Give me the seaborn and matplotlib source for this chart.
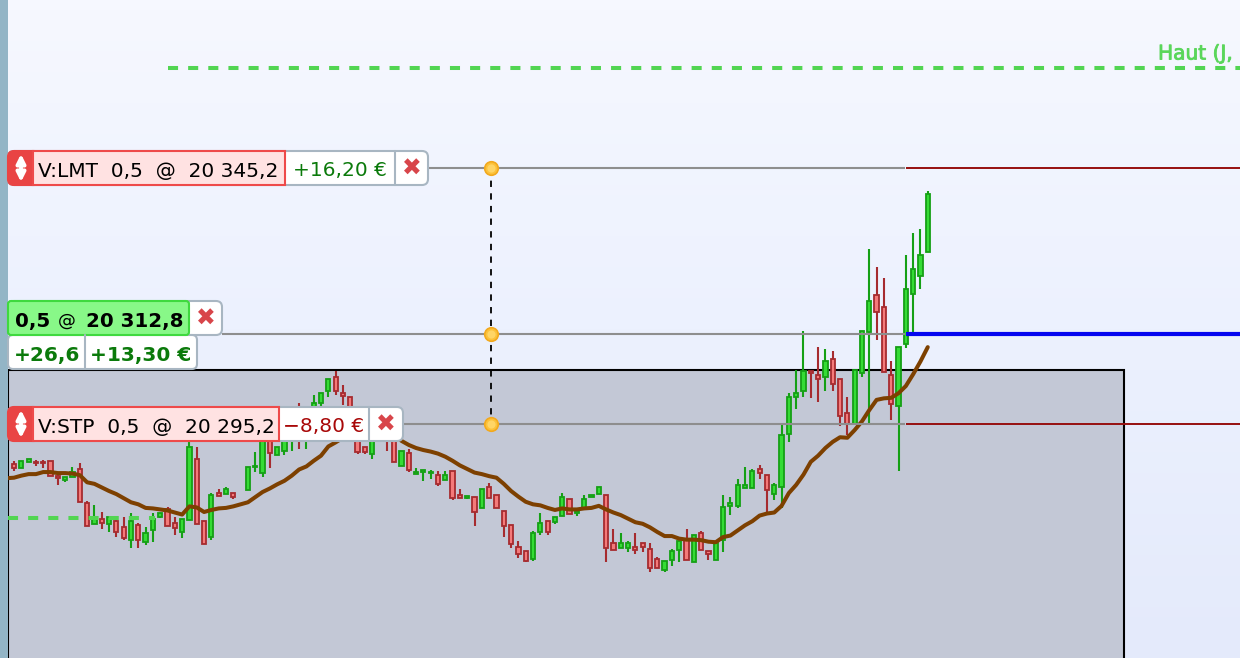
#!/usr/bin/env python3
'''
Intraday candles with a moving average and the order tickets of a trading screen.
Prices are stored as points above PRICE_BASE.
'''
import numpy as np
import seaborn as sns
import matplotlib.pyplot as plt
import matplotlib.patheffects as pe
from matplotlib.colors import LinearSegmentedColormap
from matplotlib.patches import FancyBboxPatch, Rectangle
from matplotlib.transforms import Affine2D

PRICE_BASE = 20200

# one letter per candle, G up, R down, - no trade
directions = (
    'RGGRRRRGGR' 'RGRGRRGRGG' 'GRRGGRRGRG' 'R-GGGRGGGR' 'GGGGRRRRRG'
    'RRRGRGGGRG' 'RRGRGRRRRR' 'RGGRGGRGGG' 'GRRGGRRRRG' 'GGRGRRGGGG'
    'GGRRGGGGGR' 'RGRRRGGGRR' 'RGGGGG'
)
highs = [
    87.9, 87.9, 88.3, 88.2, 88.2, 87.9, 85.3, 84.8, 86.8, 87.6,
    80.2, 79.4, 78.0, 77.1, 76.5, 77.0, 77.8, 75.9, 75.0, 77.8,
    77.8, 79.0, 77.0, 76.6, 94.0, 90.7, 76.2, 81.7, 82.5, 82.9,
    81.7, np.nan, 86.8, 89.7, 93.7, 95.0, 90.7, 94.0, 93.1, 99.3,
    95.6, 100.9, 101.2, 103.9, 105.6, 102.8, 100.5, 96.0, 90.7, 95.0,
    96.0, 94.4, 95.0, 89.9, 90.3, 86.6, 86.2, 86.2, 86.0, 86.0,
    86.0, 82.5, 81.1, 80.9, 82.5, 83.7, 81.3, 78.2, 75.5, 72.3,
    70.4, 74.3, 77.8, 76.2, 77.0, 81.7, 80.5, 78.2, 81.3, 81.3,
    82.9, 81.3, 74.7, 73.9, 72.3, 73.9, 72.0, 72.0, 69.2, 68.4,
    70.8, 72.3, 74.7, 73.5, 74.3, 70.4, 72.0, 81.3, 80.9, 84.4,
    86.8, 86.4, 87.2, 85.2, 83.7, 95.0, 101.2, 105.8, 113.3, 105.5,
    110.2, 109.8, 109.4, 103.9, 100.4, 105.8, 113.3, 129.3, 125.8, 123.8,
    107.4, 110.2, 128.1, 132.4, 133.2, 140.7,
]
body_tops = [
    87.4, 87.9, 88.3, 87.8, 87.8, 87.9, 85.1, 84.8, 85.9, 86.4,
    79.8, 76.9, 76.7, 77.0, 76.2, 75.0, 76.2, 75.5, 73.9, 76.6,
    77.8, 78.6, 75.9, 76.6, 90.7, 88.3, 76.2, 81.3, 81.7, 82.5,
    81.7, np.nan, 86.8, 87.0, 92.5, 93.7, 90.7, 93.1, 92.5, 97.0,
    95.0, 99.3, 101.2, 103.9, 104.3, 101.2, 100.5, 94.0, 90.7, 94.0,
    95.0, 93.1, 95.0, 89.9, 89.5, 85.8, 86.2, 85.9, 85.2, 85.2,
    86.0, 81.3, 81.1, 80.9, 82.5, 82.9, 81.3, 78.2, 75.5, 71.2,
    70.4, 73.9, 75.9, 76.2, 77.0, 80.9, 80.5, 78.2, 80.5, 81.3,
    82.9, 81.3, 72.0, 72.0, 72.0, 71.2, 72.0, 70.8, 68.8, 68.4,
    70.4, 72.3, 72.7, 73.5, 73.9, 70.4, 72.0, 79.0, 79.7, 83.3,
    83.3, 86.0, 86.4, 85.2, 83.3, 93.0, 100.4, 101.2, 105.5, 105.5,
    104.7, 107.4, 107.8, 103.9, 97.3, 105.8, 113.3, 119.2, 120.3, 118.0,
    104.7, 110.2, 121.5, 125.4, 128.1, 140.2,
]
body_bottoms = [
    86.5, 86.6, 87.7, 87.5, 87.5, 85.0, 84.6, 84.2, 84.9, 79.9,
    75.3, 75.6, 75.9, 75.6, 74.1, 72.9, 72.5, 72.5, 72.1, 74.4,
    77.1, 75.2, 74.8, 74.1, 76.4, 75.7, 71.8, 73.2, 81.1, 81.5,
    81.0, np.nan, 82.3, 86.7, 85.7, 89.6, 89.2, 90.0, 92.1, 95.0,
    94.0, 97.9, 99.3, 101.7, 101.7, 100.7, 96.4, 89.7, 89.7, 89.3,
    93.7, 92.1, 87.7, 87.0, 86.2, 85.5, 85.9, 85.6, 83.5, 84.2,
    80.7, 80.7, 80.7, 78.0, 78.8, 80.7, 78.8, 75.3, 71.8, 69.8,
    68.5, 68.9, 74.0, 74.1, 76.0, 77.2, 77.6, 77.8, 78.8, 80.9,
    81.5, 71.0, 70.6, 71.0, 71.0, 70.6, 71.1, 67.1, 67.1, 66.6,
    68.6, 70.5, 68.6, 68.2, 70.5, 69.8, 68.6, 72.5, 79.1, 79.1,
    82.6, 82.6, 85.7, 82.2, 81.5, 82.9, 93.2, 100.5, 101.7, 105.2,
    104.0, 104.4, 103.0, 96.7, 95.2, 95.2, 105.2, 113.1, 117.0, 105.3,
    99.1, 98.7, 110.8, 120.5, 124.0, 128.7,
]
lows = [
    86.1, 86.6, 87.7, 87.0, 86.6, 85.0, 83.3, 83.8, 84.9, 79.9,
    75.3, 75.6, 74.7, 74.0, 73.2, 72.5, 70.9, 70.9, 71.6, 72.1,
    76.9, 75.2, 73.6, 72.9, 76.4, 75.7, 71.8, 72.5, 81.1, 81.5,
    80.6, np.nan, 82.3, 85.9, 84.9, 86.5, 89.2, 89.2, 90.0, 90.4,
    90.4, 97.0, 98.5, 100.5, 100.9, 98.9, 95.0, 89.3, 89.3, 88.4,
    92.9, 90.0, 87.7, 87.0, 85.8, 85.5, 84.0, 84.4, 83.1, 84.2,
    80.3, 80.7, 80.5, 75.2, 78.8, 80.7, 78.8, 73.2, 70.9, 69.0,
    68.2, 68.5, 73.6, 73.6, 75.6, 77.2, 77.6, 77.3, 78.8, 80.9,
    81.5, 68.2, 70.6, 71.0, 70.2, 69.8, 70.2, 66.2, 67.1, 66.2,
    67.4, 68.2, 68.6, 68.2, 70.5, 68.6, 68.6, 70.2, 77.5, 78.7,
    82.6, 82.6, 84.5, 77.8, 80.3, 78.7, 91.6, 98.2, 100.5, 100.2,
    99.4, 101.7, 101.7, 94.7, 93.0, 95.2, 104.4, 95.4, 111.5, 105.3,
    95.9, 86.1, 110.0, 112.9, 121.6, 128.7,
]
# moving average, starts one candle before the first one
moving_avg = [
    84.6, 84.7, 85.1, 85.4, 85.4, 85.8, 85.8, 85.6, 85.6, 85.5, 85.2,
    83.8, 83.5, 82.8, 82.1, 81.5, 80.7, 79.9, 79.5, 78.8, 78.7,
    78.5, 78.3, 77.9, 77.5, 79.1, 78.9, 78.0, 78.4, 78.7, 78.8,
    79.1, 79.5, 79.9, 80.9, 81.9, 82.6, 83.4, 84.1, 85.1, 86.3,
    86.9, 88.0, 89.0, 90.8, 91.6, 92.5, 93.1, 93.5, 93.7, 93.9,
    93.7, 93.5, 93.1, 91.9, 91.1, 90.5, 90.1, 89.8, 89.4, 88.8,
    88.0, 87.1, 86.4, 85.7, 85.4, 85.0, 84.7, 83.5, 82.1, 81.0,
    80.0, 79.5, 79.3, 78.8, 78.4, 78.7, 78.5, 78.5, 78.7, 78.8,
    79.2, 78.5, 77.9, 77.4, 76.7, 76.0, 75.7, 75.0, 74.1, 73.3,
    73.3, 72.8, 72.6, 72.6, 72.5, 72.2, 72.1, 73.1, 73.4, 74.4,
    75.4, 76.2, 77.3, 77.7, 77.9, 79.2, 81.7, 83.3, 85.3, 87.8,
    89.0, 90.5, 91.7, 92.6, 92.5, 94.0, 95.7, 97.9, 99.9, 100.2,
    100.3, 101.2, 102.6, 104.9, 107.4, 110.2,
]
order_levels = [20345.2, 20312.8, 20295.2]
day_high_level = 20364.7
day_low_level = 20276.8

W, H = 1240, 658
PX_PER_POINT = 5.12
PX_PER_CANDLE = 7.31
FIRST_CANDLE_PX = 14
RED_EDGE, RED_FILL = '#a62b2f', '#f47a7a'
GREEN_EDGE, GREEN_FILL = '#15a015', '#35dc35'
GAIN, LOSS = '#0b7a0b', '#a80808'
BORDER = '#a8b6c2'
FONT = 14.5
DASHED_GREEN = dict(colors='#52d552', lw=2.9, linestyles=(0, (2.5, 2.5)))


def candle_x(px):
    return (px - FIRST_CANDLE_PX) / PX_PER_CANDLE


def box(ax, px_tr, x0, y0, x1, y1, face, edge, lw=1.5, rad=0, z=10):
    if rad:
        patch = FancyBboxPatch((x0 + rad, y0 + rad), x1 - x0 - 2 * rad,
                               y1 - y0 - 2 * rad,
                               boxstyle=f'round,pad={rad},rounding_size={rad}',
                               fc=face, ec=edge, lw=lw, transform=px_tr, zorder=z)
    else:
        patch = Rectangle((x0, y0), x1 - x0, y1 - y0, fc=face, ec=edge, lw=lw,
                          transform=px_tr, zorder=z)
    ax.add_patch(patch)


def label(ax, px_tr, x, y, text, color='black', weight='normal', ha='left', size=FONT):
    ax.text(x, y, text, color=color, fontweight=weight, ha=ha, va='center_baseline',
            fontsize=size, transform=px_tr, zorder=12)


def close_button(ax, px_tr, x, y):
    ax.text(x, y, '\u2716', color='#d8454a', ha='center', va='center',
            fontsize=17, transform=px_tr, zorder=12)


def ticket(ax, px_tr, y0, kind_text, pink_end, pnl_text, pnl_color, div, end):
    y1 = y0 + 34
    box(ax, px_tr, 8, y0, end, y1, 'white', BORDER, rad=6)
    box(ax, px_tr, 8, y0, 40, y1, '#e94444', '#e94444', rad=6, z=10.5)
    box(ax, px_tr, 33, y0, pink_end, y1, '#ffe2e2', '#ee4a4a', z=11)
    ax.annotate('', xy=(21, y0 + 3), xytext=(21, y1 - 3), xycoords=px_tr,
                textcoords=px_tr, zorder=12,
                arrowprops=dict(arrowstyle='<|-|>', color='white', lw=2.8,
                                mutation_scale=13, shrinkA=0, shrinkB=0))
    label(ax, px_tr, 38, y0 + 18, kind_text)
    label(ax, px_tr, (pink_end + div) / 2, y0 + 18, pnl_text, pnl_color, ha='center')
    ax.plot([div, div], [y0, y1], color=BORDER, lw=1.5, transform=px_tr, zorder=11)
    close_button(ax, px_tr, (div + end) / 2, y0 + 18)


def main():
    sns.set_theme(style='white')
    plt.rcParams['font.family'] = ['DejaVu Sans']
    fig = plt.figure(figsize=(W / 100, H / 100), dpi=100)
    ax = fig.add_axes([0, 0, 1, 1])
    px_tr = Affine2D().scale(1, -1).translate(0, H)

    xlim = (candle_x(0), candle_x(W))
    top = PRICE_BASE + 178.0
    ylim = (top - H / PX_PER_POINT, top)

    # background and the shaded session block
    cmap = LinearSegmentedColormap.from_list('bg', ['#f6f8ff', '#ecf1fe', '#e4eafb'])
    ax.imshow(np.linspace(0, 1, 64)[:, None], cmap=cmap, aspect='auto',
              extent=(*xlim, ylim[0], ylim[1]), zorder=0)
    ax.add_patch(Rectangle((8, 370), 1116, 300, fc='#c3c8d6', ec='black', lw=1.5,
                           transform=px_tr, zorder=1))
    ax.add_patch(Rectangle((0, 0), 7.5, H, fc='#93b5c6', ec='none',
                           transform=px_tr, zorder=9))

    # candles
    n = len(directions)
    xs = np.arange(n)
    up = np.array([d == 'G' for d in directions])
    hi = PRICE_BASE + np.array(highs)
    lo = PRICE_BASE + np.array(lows)
    tops = PRICE_BASE + np.array(body_tops)
    bottoms = PRICE_BASE + np.array(body_bottoms)
    for mask, edge, fill in ((up, GREEN_EDGE, GREEN_FILL), (~up, RED_EDGE, RED_FILL)):
        ax.vlines(xs[mask], lo[mask], hi[mask], colors=edge, lw=1.5, zorder=3)
        ax.bar(xs[mask], (tops - bottoms)[mask], bottom=bottoms[mask], width=0.58,
               color=fill, edgecolor=edge, linewidth=1.3, zorder=4)

    ma_x = np.arange(-1, n)
    sns.lineplot(x=ma_x, y=PRICE_BASE + np.array(moving_avg), color='#7d4000',
                 linewidth=2.9, errorbar=None, ax=ax, zorder=5,
                 solid_capstyle='round')

    # price levels
    for level, px_from in zip(order_levels, (428, 222, 403)):
        ax.hlines(level, candle_x(px_from), candle_x(905), colors='#8e8e8e', lw=1.5, zorder=6)
    ax.hlines(order_levels[0], candle_x(906), candle_x(W), colors='#960f0f', lw=1.4, zorder=6)
    ax.hlines(order_levels[2], candle_x(906), candle_x(W), colors='#960f0f', lw=1.4, zorder=6)
    ax.hlines(order_levels[1], candle_x(906), candle_x(W), colors='#0505f0', lw=3, zorder=6)
    ax.hlines(day_high_level, candle_x(168), candle_x(W), zorder=6, **DASHED_GREEN)
    ax.hlines(day_low_level, candle_x(8), candle_x(155), zorder=4.5, **DASHED_GREEN)
    ax.text(1158, 54, 'Haut (J,', color='#5ad65a', fontsize=14.5, va='center',
            transform=px_tr, zorder=7, clip_on=True,
            path_effects=[pe.withStroke(linewidth=0.6, foreground='#5ad65a')])

    # drag handle joining the three orders
    handle_x = [candle_x(490.5)] * 2
    ax.plot(handle_x, [order_levels[0], order_levels[2]], color='black', lw=1.3,
            linestyle=(0, (3.5, 3.5)), zorder=7)
    ax.scatter([candle_x(490.5)] * 3, order_levels, s=95, color='#fcc23a',
               edgecolor='#f2a91e', linewidth=1.2, zorder=8)
    ax.scatter([candle_x(490.5)] * 3, order_levels, s=35, color='#ffd566',
               linewidth=0, zorder=8.5)

    # order tickets
    ticket(ax, px_tr, 151, 'V:LMT  0,5  @  20 345,2', 285, '+16,20 \u20ac', GAIN, 395, 428)
    ticket(ax, px_tr, 407, 'V:STP  0,5  @  20 295,2', 279, '\u22128,80 \u20ac', LOSS, 369, 403)

    box(ax, px_tr, 8, 301, 222, 335, 'white', BORDER, rad=6)
    box(ax, px_tr, 8, 301, 189, 335, '#88f888', '#3fd93f', rad=3, z=11)
    label(ax, px_tr, 15, 319, '0,5', weight='bold', size=14.3)
    label(ax, px_tr, 58, 319, '@', size=13)
    label(ax, px_tr, 86, 319, '20 312,8', weight='bold', size=14.3)
    close_button(ax, px_tr, 206, 319)
    box(ax, px_tr, 8, 335, 197, 369, 'white', BORDER, rad=5)
    ax.plot([85, 85], [335, 369], color=BORDER, lw=1.5, transform=px_tr, zorder=11)
    label(ax, px_tr, 47, 354, '+26,6', GAIN, 'bold', 'center', 14.5)
    label(ax, px_tr, 141, 354, '+13,30 \u20ac', GAIN, 'bold', 'center', 14.5)

    ax.set_xlim(*xlim)
    ax.set_ylim(*ylim)
    ax.axis('off')
    fig.savefig('out.png', dpi=100)


if __name__ == '__main__':
    main()
